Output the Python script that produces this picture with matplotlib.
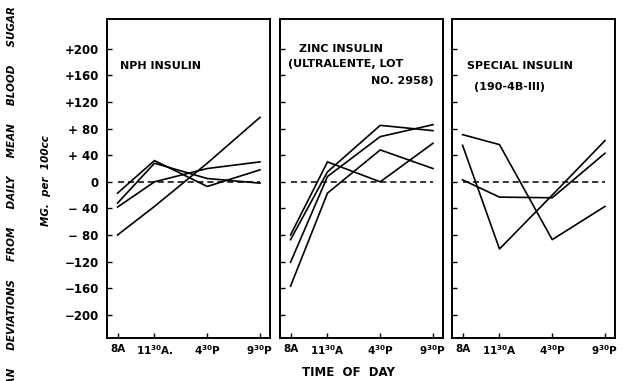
import matplotlib.pyplot as plt

# hours of the day the blood sugar was taken
times = [8, 11.5, 16.5, 21.5]
time_labels_1 = ["8A", r"11$^{\mathbf{30}}$A.", r"4$^{\mathbf{30}}$P", r"9$^{\mathbf{30}}$P"]
time_labels_2 = ["8A", r"11$^{\mathbf{30}}$A", r"4$^{\mathbf{30}}$P", r"9$^{\mathbf{30}}$P"]

yticks = [200, 160, 120, 80, 40, 0, -40, -80, -120, -160, -200]
ytick_labels = ["+200", "+160", "+120", "+ 80", "+ 40", "0",
                "\u2212 40", "\u2212 80", "\u2212120", "\u2212160", "\u2212200"]

# deviations (mg per 100 cc), one list per patient
nph = [[-80, -37, 28, 97],
       [-17, 32, -7, 18],
       [-32, 28, 5, -2],
       [-38, 0, 20, 30]]
zinc = [[-80, 30, 0, 58],
        [-87, 15, 85, 77],
        [-121, 8, 68, 86],
        [-157, -17, 48, 20]]
special = [[71, 56, -87, -37],
           [55, -101, -20, 62],
           [3, -23, -24, 43]]

panels = [nph, zinc, special]
lefts = [107, 280, 452]

fig = plt.figure(figsize=(6.33, 3.81), dpi=100)
W, H = 633, 381

axes = []
for i, data in enumerate(panels):
    ax = fig.add_axes([lefts[i] / W, (H - 338) / H, 163 / W, 319 / H])
    for series in data:
        ax.plot(times, series, color='black', lw=1.2)
    ax.plot([times[0], times[-1]], [0, 0], color='black', lw=1.1, ls=(0, (4, 2.5)))
    ax.set_xlim(7.0, 22.45)
    ax.set_ylim(-235, 245)
    ax.set_xticks(times)
    ax.set_xticklabels(time_labels_1 if i == 0 else time_labels_2,
                       fontsize=7.5, fontweight='bold')
    ax.set_yticks(yticks)
    if i == 0:
        ax.set_yticklabels(ytick_labels, fontsize=8.5, fontweight='bold')
    else:
        ax.set_yticklabels([])
    ax.tick_params(direction='in', length=3.5, width=1, pad=4)
    ax.tick_params(axis='y', pad=6)
    for sp in ax.spines.values():
        sp.set_linewidth(1.4)
    axes.append(ax)

axes[0].text(8.2, 174, "NPH INSULIN", fontsize=8, fontweight='bold', va='center')
axes[1].text(8.8, 200, "ZINC INSULIN", fontsize=8, fontweight='bold', va='center')
axes[1].text(7.8, 177, "(ULTRALENTE, LOT", fontsize=8, fontweight='bold', va='center')
axes[1].text(21.6, 152, "NO. 2958)", fontsize=8, fontweight='bold', va='center', ha='right')
axes[2].text(8.4, 175, "SPECIAL INSULIN", fontsize=8, fontweight='bold', va='center')
axes[2].text(9.1, 143, "(190-4B-III)", fontsize=8, fontweight='bold', va='center')

fig.text(348 / W, 1 - 373 / H, "TIME  OF  DAY", fontsize=8.5, fontweight='bold',
         ha='center', va='center')
fig.text(46 / W, 1 - 181 / H, "MG.  per  100cc", fontsize=7.5, fontweight='bold',
         style='italic', rotation=90, ha='center', va='center')
fig.text(12 / W, 1 - 6 / H,
         "MEAN     DEVIATIONS     FROM     DAILY     MEAN     BLOOD     SUGAR",
         fontsize=7.5, fontweight='bold', style='italic', rotation=90,
         ha='center', va='top')

fig.savefig("out.png", dpi=100)
